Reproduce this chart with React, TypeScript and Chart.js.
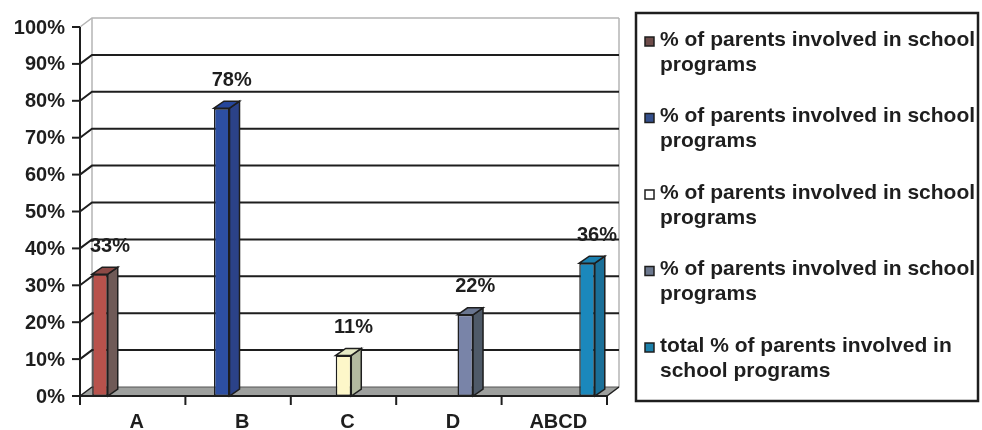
import { useEffect, useRef } from 'react';
import { Chart, registerables } from 'chart.js';

Chart.register(...registerables);

// Chart values
const categories = ['A', 'B', 'C', 'D', 'ABCD'];
const values = [33, 78, 11, 22, 36];
const seriesLabels = [
  ['% of parents involved in school', 'programs'],
  ['% of parents involved in school', 'programs'],
  ['% of parents involved in school', 'programs'],
  ['% of parents involved in school', 'programs'],
  ['total % of parents involved in', 'school programs'],
];
const yTicks = [0, 10, 20, 30, 40, 50, 60, 70, 80, 90, 100];

// Face colours of each 3D column (front, right side, top)
const frontColors = ['#b8524c', '#2d4fa2', '#fdf7c9', '#7984a8', '#1b88bc'];
const sideColors = ['#6f5a57', '#2b4288', '#b3baa0', '#4f5a68', '#1a6f98'];
const topColors = ['#8c4a46', '#26469a', '#e6eac6', '#6a7690', '#1a7fae'];
const legendColors = ['#6e4c4a', '#34508c', '#ffffff', '#6c788e', '#1c80aa'];

const FONT = 'bold 20px "Liberation Sans", Arial, sans-serif';
const LEGEND_FONT = 'bold 21px "Liberation Sans", Arial, sans-serif';
const INK = '#1e1e1e';
const EDGE = '#b4b4b4';

// depth of the walls and of the columns
const WALL_DX = 12;
const WALL_DY = 9;
const BAR_DX = 10;
const BAR_DY = 7;

function poly(ctx: CanvasRenderingContext2D, pts: number[][], fill: string) {
  ctx.beginPath();
  ctx.moveTo(pts[0][0], pts[0][1]);
  for (let k = 1; k < pts.length; k++) ctx.lineTo(pts[k][0], pts[k][1]);
  ctx.closePath();
  ctx.fillStyle = fill;
  ctx.fill();
  ctx.strokeStyle = INK;
  ctx.lineWidth = 1.5;
  ctx.stroke();
}

function seg(ctx: CanvasRenderingContext2D, x1: number, y1: number, x2: number, y2: number) {
  ctx.beginPath();
  ctx.moveTo(x1, y1);
  ctx.lineTo(x2, y2);
  ctx.stroke();
}

const depthPlugin = {
  id: 'depth3d',
  beforeDatasetsDraw(chart: any) {
    const { ctx, chartArea: a, scales } = chart;
    const y = scales.y;
    const y0 = y.getPixelForValue(0);
    const yTop = y.getPixelForValue(yTicks[yTicks.length - 1]);
    ctx.save();

    // floor
    ctx.beginPath();
    ctx.moveTo(a.left, y0);
    ctx.lineTo(a.right, y0);
    ctx.lineTo(a.right + WALL_DX, y0 - WALL_DY);
    ctx.lineTo(a.left + WALL_DX, y0 - WALL_DY);
    ctx.closePath();
    ctx.fillStyle = '#9ea09e';
    ctx.fill();

    // back wall edges
    ctx.strokeStyle = EDGE;
    ctx.lineWidth = 1.5;
    seg(ctx, a.left + WALL_DX, yTop - WALL_DY, a.left + WALL_DX, y0 - WALL_DY);
    seg(ctx, a.right + WALL_DX, yTop - WALL_DY, a.right + WALL_DX, y0 - WALL_DY);

    // grid lines on the side and back walls
    yTicks.forEach((v) => {
      if (v === 0) return;
      const yf = y.getPixelForValue(v);
      const isTop = v === yTicks[yTicks.length - 1];
      ctx.strokeStyle = isTop ? EDGE : INK;
      ctx.lineWidth = isTop ? 1.5 : 2;
      ctx.beginPath();
      ctx.moveTo(a.left, yf);
      ctx.lineTo(a.left + WALL_DX, yf - WALL_DY);
      ctx.lineTo(a.right + WALL_DX, yf - WALL_DY);
      ctx.stroke();
    });

    // floor outline (back and side edges)
    ctx.strokeStyle = '#555';
    ctx.lineWidth = 1;
    seg(ctx, a.left + WALL_DX, y0 - WALL_DY, a.right + WALL_DX, y0 - WALL_DY);
    ctx.strokeStyle = INK;
    ctx.lineWidth = 1.5;
    seg(ctx, a.right, y0, a.right + WALL_DX, y0 - WALL_DY);
    seg(ctx, a.left, y0, a.left + WALL_DX, y0 - WALL_DY);
    ctx.restore();
  },
  afterDatasetsDraw(chart: any) {
    const { ctx, chartArea: a, scales } = chart;
    const x = scales.x;
    const y = scales.y;
    const y0 = y.getPixelForValue(0);
    ctx.save();

    // side and top faces of each column, with its value above it
    chart.data.datasets.forEach((ds: any, i: number) => {
      const meta = chart.getDatasetMeta(i);
      meta.data.forEach((bar: any, j: number) => {
        const v = ds.data[j];
        if (v == null) return;
        const p = bar.getProps(['x', 'y', 'base', 'width'], true);
        const l = p.x - p.width / 2;
        const r = p.x + p.width / 2;
        poly(ctx, [[r, p.y], [r + BAR_DX, p.y - BAR_DY], [r + BAR_DX, p.base - BAR_DY], [r, p.base]], sideColors[i]);
        poly(ctx, [[l, p.y], [l + BAR_DX, p.y - BAR_DY], [r + BAR_DX, p.y - BAR_DY], [r, p.y]], topColors[i]);

        ctx.font = FONT;
        ctx.fillStyle = INK;
        ctx.textAlign = 'center';
        ctx.textBaseline = 'middle';
        ctx.fillText(`${v}%`, p.x + 10, p.y - 28);
      });
    });

    // value axis
    ctx.strokeStyle = INK;
    ctx.lineWidth = 2;
    seg(ctx, a.left, y.getPixelForValue(yTicks[yTicks.length - 1]), a.left, y0 + 1);
    ctx.font = FONT;
    ctx.fillStyle = INK;
    ctx.textAlign = 'right';
    ctx.textBaseline = 'middle';
    yTicks.forEach((v) => {
      const yf = y.getPixelForValue(v);
      seg(ctx, a.left - 8, yf, a.left, yf);
      ctx.fillText(`${v}%`, a.left - 15, yf + 1);
    });

    // category axis
    seg(ctx, a.left, y0, a.right, y0);
    const n = categories.length;
    const band = (a.right - a.left) / n;
    for (let k = 0; k <= n; k++) {
      const xt = a.left + band * k;
      seg(ctx, xt, y0, xt, y0 + 9);
    }
    ctx.textAlign = 'center';
    categories.forEach((c, k) => {
      ctx.fillText(c, x.getPixelForValue(k) + 4, y0 + 26);
    });
    ctx.restore();
  },
  afterDraw(chart: any) {
    const { ctx } = chart;
    const bx = 636;
    const by = 13;
    const bw = 342;
    const bh = 388;
    ctx.save();
    ctx.beginPath();
    ctx.rect(bx, by, bw, bh);
    ctx.clip();
    ctx.font = LEGEND_FONT;
    ctx.textAlign = 'left';
    ctx.textBaseline = 'middle';
    seriesLabels.forEach((lines, i) => {
      const ly = 40 + i * 76.5;
      ctx.fillStyle = legendColors[i];
      ctx.fillRect(645, ly - 3, 9, 9);
      ctx.strokeStyle = INK;
      ctx.lineWidth = 1.5;
      ctx.strokeRect(645, ly - 3, 9, 9);
      ctx.fillStyle = INK;
      lines.forEach((t, k) => ctx.fillText(t, 660, ly + k * 25));
    });
    ctx.restore();
    ctx.save();
    ctx.strokeStyle = INK;
    ctx.lineWidth = 2.5;
    ctx.strokeRect(bx, by, bw, bh);
    ctx.restore();
  },
};

export default function App() {
  const canvasRef = useRef<HTMLCanvasElement | null>(null);

  useEffect(() => {
    document.body.style.margin = '0';
    const canvas = canvasRef.current;
    if (!canvas) return;
    const chart = new Chart(canvas, {
      type: 'bar',
      data: {
        labels: categories,
        datasets: values.map((v, i) => ({
          label: seriesLabels[i].join(' '),
          data: categories.map((_, j) => (j === i ? v : null)),
          backgroundColor: frontColors[i],
          borderColor: INK,
          borderWidth: 1.5,
          borderSkipped: false,
          categoryPercentage: 0.776,
          barPercentage: 0.95,
        })),
      },
      options: {
        responsive: false,
        devicePixelRatio: 1,
        animation: false,
        layout: { padding: { left: 80, right: 375, top: 27, bottom: 34 } },
        scales: {
          x: { display: false },
          y: { display: false, min: 0, max: 100, ticks: { stepSize: 10 } },
        },
        plugins: {
          legend: { display: false },
          tooltip: { enabled: false },
        },
      },
      plugins: [depthPlugin],
    } as any);
    return () => chart.destroy();
  }, []);

  return (
    <div style={{ width: 982, height: 430, background: '#fff' }}>
      <canvas ref={canvasRef} width={982} height={430} style={{ display: 'block' }} />
    </div>
  );
}
